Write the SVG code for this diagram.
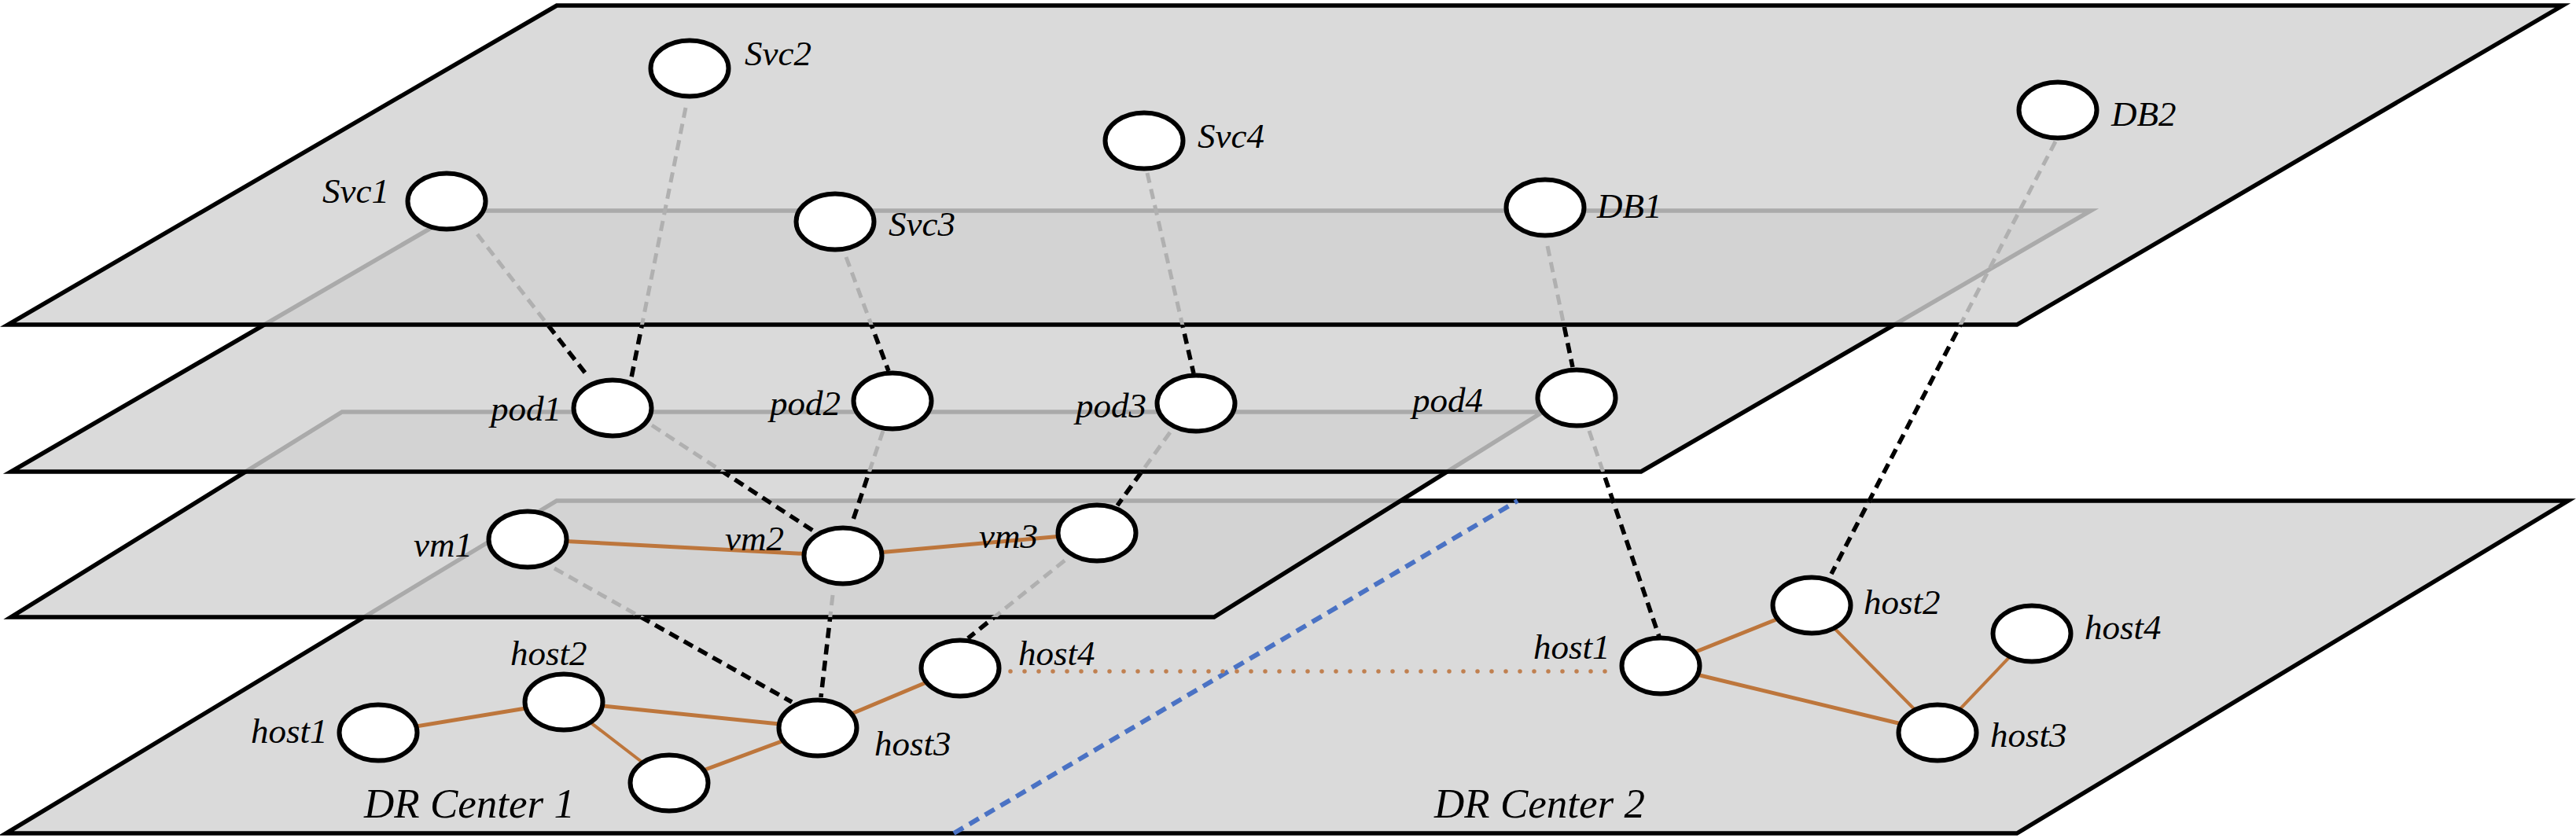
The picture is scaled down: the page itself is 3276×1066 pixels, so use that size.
<svg xmlns="http://www.w3.org/2000/svg" width="3276" height="1066" viewBox="0 0 3276 1066">
<defs>
<style>
.plane{fill:#d1d1d1;fill-opacity:0.81;stroke:#000;stroke-width:5.5;stroke-linejoin:miter}
.node{fill:#fff;stroke:#000;stroke-width:6}
.lbl{font-family:"Liberation Serif",serif;font-style:italic;font-size:45px;fill:#000}
.big{font-family:"Liberation Serif",serif;font-style:italic;font-size:53px;fill:#000}
.dg{stroke:#b0b0b0;stroke-width:5;stroke-dasharray:13 8;fill:none}
.db{stroke:#000;stroke-width:5.5;stroke-dasharray:13 8;fill:none}
.or{stroke:#bd763c;stroke-width:5;fill:none}
.ort{stroke:#bd763c;stroke-width:4;fill:none}
.dot{stroke:#c08050;stroke-width:5.5;stroke-dasharray:0 18;stroke-linecap:round;fill:none}
.blue{stroke:#4a72c4;stroke-width:6;stroke-dasharray:14 9;fill:none}
</style>
<clipPath id="c413"><rect x="0" y="413" width="3276" height="653"/></clipPath>
<clipPath id="c600"><rect x="0" y="600" width="3276" height="466"/></clipPath>
<clipPath id="c785"><rect x="0" y="785" width="3276" height="281"/></clipPath>
</defs>
<g id="planes">
<polygon id="plane-dr" class="plane" points="708,637 3266,637 2565,1060 8,1060"/>
<polygon id="plane-vm" class="plane" points="435,524 1962,524 1544,785 14,785"/>
<polygon id="plane-pod" class="plane" points="586,268 2659,268 2087,600 14,600"/>
<polygon id="plane-svc" class="plane" points="708,7 3259,7 2565,413 10,413"/>
</g>
<g id="divider">
<line class="blue" x1="1213" y1="1060" x2="1930" y2="637"/>
</g>
<g id="connectors">
<line class="dg" x1="607" y1="298" x2="747" y2="478"/>
<line class="db" clip-path="url(#c413)" x1="607" y1="298" x2="747" y2="478"/>
<line class="dg" x1="872" y1="137" x2="803" y2="480"/>
<line class="db" clip-path="url(#c413)" x1="872" y1="137" x2="803" y2="480"/>
<line class="dg" x1="1076" y1="327" x2="1130" y2="472"/>
<line class="db" clip-path="url(#c413)" x1="1076" y1="327" x2="1130" y2="472"/>
<line class="dg" x1="1459" y1="220" x2="1518" y2="475"/>
<line class="db" clip-path="url(#c413)" x1="1459" y1="220" x2="1518" y2="475"/>
<line class="dg" x1="1968" y1="313" x2="2000" y2="467"/>
<line class="db" clip-path="url(#c413)" x1="1968" y1="313" x2="2000" y2="467"/>
<line class="dg" x1="2614" y1="180" x2="2329" y2="730"/>
<line class="db" clip-path="url(#c413)" x1="2614" y1="180" x2="2329" y2="730"/>
<line class="dg" x1="829" y1="541" x2="1040" y2="679"/>
<line class="db" clip-path="url(#c600)" x1="829" y1="541" x2="1040" y2="679"/>
<line class="dg" x1="1123" y1="548" x2="1083" y2="667"/>
<line class="db" clip-path="url(#c600)" x1="1123" y1="548" x2="1083" y2="667"/>
<line class="dg" x1="1488" y1="550" x2="1421" y2="643"/>
<line class="db" clip-path="url(#c600)" x1="1488" y1="550" x2="1421" y2="643"/>
<line class="dg" x1="2021" y1="548" x2="2110" y2="810"/>
<line class="db" clip-path="url(#c600)" x1="2021" y1="548" x2="2110" y2="810"/>
<line class="dg" x1="705" y1="723" x2="1007" y2="893"/>
<line class="db" clip-path="url(#c785)" x1="705" y1="723" x2="1007" y2="893"/>
<line class="dg" x1="1059" y1="757" x2="1044" y2="887"/>
<line class="db" clip-path="url(#c785)" x1="1059" y1="757" x2="1044" y2="887"/>
<line class="dg" x1="1354" y1="713" x2="1231" y2="812"/>
<line class="db" clip-path="url(#c785)" x1="1354" y1="713" x2="1231" y2="812"/>
<line class="or" x1="671" y1="686" x2="1072" y2="707"/>
<line class="or" x1="1072" y1="707" x2="1395" y2="678"/>
<line class="or" x1="481" y1="932" x2="717" y2="893"/>
<line class="or" x1="717" y1="893" x2="1040" y2="926"/>
<line class="ort" x1="717" y1="893" x2="851" y2="996"/>
<line class="or" x1="851" y1="996" x2="1040" y2="926"/>
<line class="or" x1="1040" y1="926" x2="1221" y2="850"/>
<line class="or" x1="2112" y1="847" x2="2304" y2="770"/>
<line class="or" x1="2112" y1="847" x2="2464" y2="932"/>
<line class="ort" x1="2304" y1="770" x2="2464" y2="932"/>
<line class="ort" x1="2584" y1="806" x2="2464" y2="932"/>
<line class="dot" x1="1285" y1="854" x2="2045" y2="854"/>
</g>
<g id="nodes">
<g id="svc1"><ellipse class="node" cx="568" cy="256" rx="49.5" ry="35.5"/><text class="lbl" x="410" y="258">Svc1</text></g>
<g id="svc2"><ellipse class="node" cx="877" cy="87" rx="49.5" ry="35.5"/><text class="lbl" x="947" y="83">Svc2</text></g>
<g id="svc3"><ellipse class="node" cx="1062" cy="282" rx="49.5" ry="35.5"/><text class="lbl" x="1130" y="300">Svc3</text></g>
<g id="svc4"><ellipse class="node" cx="1455" cy="179" rx="49.5" ry="35.5"/><text class="lbl" x="1523" y="188">Svc4</text></g>
<g id="db1"><ellipse class="node" cx="1965" cy="264" rx="49.5" ry="35.5"/><text class="lbl" x="2031" y="277">DB1</text></g>
<g id="db2"><ellipse class="node" cx="2617" cy="140" rx="49.5" ry="35.5"/><text class="lbl" x="2685" y="160">DB2</text></g>
<g id="pod1"><ellipse class="node" cx="779" cy="519" rx="49.5" ry="35.5"/><text class="lbl" x="624" y="535">pod1</text></g>
<g id="pod2"><ellipse class="node" cx="1135" cy="510" rx="49.5" ry="35.5"/><text class="lbl" x="979" y="528">pod2</text></g>
<g id="pod3"><ellipse class="node" cx="1521" cy="513" rx="49.5" ry="35.5"/><text class="lbl" x="1368" y="531">pod3</text></g>
<g id="pod4"><ellipse class="node" cx="2005" cy="506" rx="49.5" ry="35.5"/><text class="lbl" x="1796" y="524">pod4</text></g>
<g id="vm1"><ellipse class="node" cx="671" cy="686" rx="49.5" ry="35.5"/><text class="lbl" x="526" y="708">vm1</text></g>
<g id="vm2"><ellipse class="node" cx="1072" cy="707" rx="49.5" ry="35.5"/><text class="lbl" x="922" y="700">vm2</text></g>
<g id="vm3"><ellipse class="node" cx="1395" cy="678" rx="49.5" ry="35.5"/><text class="lbl" x="1245" y="697">vm3</text></g>
<g id="dc1-host1"><ellipse class="node" cx="481" cy="932" rx="49.5" ry="35.5"/><text class="lbl" x="319" y="945">host1</text></g>
<g id="dc1-host2"><ellipse class="node" cx="717" cy="893" rx="49.5" ry="35.5"/><text class="lbl" x="649" y="846">host2</text></g>
<g id="dc1-host5"><ellipse class="node" cx="851" cy="996" rx="49.5" ry="35.5"/></g>
<g id="dc1-host3"><ellipse class="node" cx="1040" cy="926" rx="49.5" ry="35.5"/><text class="lbl" x="1112" y="961">host3</text></g>
<g id="dc1-host4"><ellipse class="node" cx="1221" cy="850" rx="49.5" ry="35.5"/><text class="lbl" x="1295" y="846">host4</text></g>
<g id="dc2-host1"><ellipse class="node" cx="2112" cy="847" rx="49.5" ry="35.5"/><text class="lbl" x="1950" y="838">host1</text></g>
<g id="dc2-host2"><ellipse class="node" cx="2304" cy="770" rx="49.5" ry="35.5"/><text class="lbl" x="2370" y="781">host2</text></g>
<g id="dc2-host4"><ellipse class="node" cx="2584" cy="806" rx="49.5" ry="35.5"/><text class="lbl" x="2651" y="813">host4</text></g>
<g id="dc2-host3"><ellipse class="node" cx="2464" cy="932" rx="49.5" ry="35.5"/><text class="lbl" x="2531" y="950">host3</text></g>
</g>
<g id="titles">
<text class="big" x="463" y="1040">DR Center 1</text>
<text class="big" x="1824" y="1040">DR Center 2</text>
</g>
</svg>
